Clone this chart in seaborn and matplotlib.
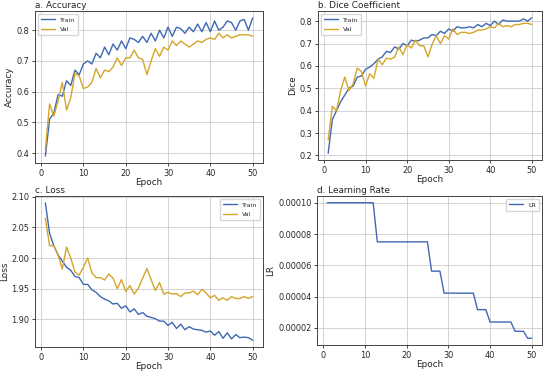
import numpy as np
import pandas as pd
import matplotlib
matplotlib.use("Agg")
import matplotlib.pyplot as plt
from matplotlib.ticker import FormatStrFormatter
import seaborn as sns

epochs = list(range(1, 51))

acc_train = [0.39, 0.51, 0.53, 0.59, 0.585, 0.635, 0.62, 0.67, 0.655, 0.69,
             0.70, 0.69, 0.725, 0.71, 0.745, 0.72, 0.755, 0.735, 0.765, 0.74,
             0.775, 0.77, 0.76, 0.78, 0.76, 0.79, 0.765, 0.80, 0.775, 0.81,
             0.78, 0.81, 0.805, 0.79, 0.81, 0.795, 0.82, 0.795, 0.825, 0.795,
             0.83, 0.80, 0.81, 0.83, 0.825, 0.80, 0.83, 0.835, 0.80, 0.84]
acc_val = [0.41, 0.56, 0.52, 0.57, 0.63, 0.54, 0.58, 0.66, 0.65, 0.61,
           0.615, 0.63, 0.675, 0.645, 0.67, 0.665, 0.68, 0.71, 0.685, 0.71,
           0.71, 0.735, 0.71, 0.705, 0.655, 0.70, 0.74, 0.715, 0.745, 0.735,
           0.765, 0.75, 0.765, 0.755, 0.745, 0.755, 0.765, 0.76, 0.77, 0.775,
           0.77, 0.79, 0.775, 0.785, 0.775, 0.78, 0.785, 0.785, 0.785, 0.78]

dice_train = [0.21, 0.36, 0.40, 0.44, 0.47, 0.50, 0.51, 0.55, 0.555, 0.585,
              0.595, 0.61, 0.63, 0.64, 0.665, 0.66, 0.685, 0.675, 0.70, 0.69,
              0.715, 0.71, 0.715, 0.725, 0.725, 0.74, 0.735, 0.755, 0.745, 0.765,
              0.755, 0.775, 0.77, 0.77, 0.775, 0.77, 0.785, 0.775, 0.79, 0.78,
              0.80, 0.785, 0.805, 0.80, 0.80, 0.80, 0.80, 0.81, 0.80, 0.815]
dice_val = [0.27, 0.42, 0.40, 0.49, 0.55, 0.49, 0.52, 0.59, 0.575, 0.51,
            0.565, 0.545, 0.63, 0.605, 0.635, 0.63, 0.64, 0.685, 0.65, 0.695,
            0.68, 0.715, 0.69, 0.69, 0.64, 0.695, 0.735, 0.70, 0.735, 0.72,
            0.765, 0.74, 0.75, 0.75, 0.745, 0.75, 0.76, 0.76, 0.765, 0.775,
            0.77, 0.79, 0.775, 0.78, 0.775, 0.785, 0.785, 0.79, 0.79, 0.785]

loss_train = [2.09, 2.04, 2.02, 2.005, 1.995, 1.985, 1.98, 1.97, 1.968, 1.957,
              1.957, 1.948, 1.944, 1.937, 1.933, 1.93, 1.925, 1.926, 1.918, 1.922,
              1.912, 1.917, 1.908, 1.911, 1.905, 1.903, 1.901, 1.897, 1.897, 1.89,
              1.895, 1.885, 1.892, 1.883, 1.888, 1.884, 1.883, 1.882, 1.879, 1.881,
              1.874, 1.88, 1.869, 1.878, 1.868, 1.875, 1.87, 1.871, 1.87, 1.866]
loss_val = [2.065, 2.02, 2.02, 2.005, 1.982, 2.018, 2.00, 1.977, 1.972, 1.985,
            2.00, 1.976, 1.968, 1.968, 1.964, 1.974, 1.967, 1.95, 1.965, 1.945,
            1.955, 1.941, 1.951, 1.967, 1.983, 1.965, 1.947, 1.96, 1.941, 1.944,
            1.941, 1.942, 1.937, 1.943, 1.943, 1.946, 1.94, 1.949, 1.943, 1.935,
            1.939, 1.931, 1.935, 1.931, 1.937, 1.934, 1.934, 1.937, 1.934, 1.937]

lr = [1e-4] * 12 + [7.5e-5] * 13 + [5.625e-5] * 3 + [4.21875e-5] * 8 + \
     [3.164e-5] * 3 + [2.373e-5] * 6 + [1.78e-5] * 3 + [1.335e-5] * 2

sns.set_theme(style="ticks")
plt.rcParams['font.family'] = ['DejaVu Sans']

C_TRAIN = "#3f68b2"
C_VAL = "#d4a52a"

fig = plt.figure(figsize=(5.5, 3.71), dpi=100)

W, H = 550, 371
def rect(l, t, r, b):
    return [l / W, 1 - b / H, (r - l) / W, (b - t) / H]

axa = fig.add_axes(rect(35, 11, 263, 163))
axb = fig.add_axes(rect(318, 11, 542, 160))
axc = fig.add_axes(rect(35, 196, 263, 347))
axd = fig.add_axes(rect(317, 196, 542, 345))

def style(ax, title, ylabel):
    ax.set_title(title, loc="left", fontsize=6.4, pad=2)
    ax.set_xlabel("Epoch", fontsize=6.4, labelpad=0)
    ax.set_ylabel(ylabel, fontsize=6.4, labelpad=2)
    ax.tick_params(labelsize=5.9, length=2.5, width=0.6, pad=1.5)
    ax.grid(True, color="#cccccc", linewidth=0.6)
    for s in ax.spines.values():
        s.set_color("#444444")
        s.set_linewidth(0.7)
    ax.set_xticks([0, 10, 20, 30, 40, 50])

LW = 1.0
LEG = dict(fontsize=4.5, frameon=True, handlelength=2.2, borderpad=0.5,
           labelspacing=0.6)

df_acc = pd.DataFrame({"Epoch": epochs * 2, "v": acc_train + acc_val,
                       "s": ["Train"] * 50 + ["Val"] * 50})
sns.lineplot(data=df_acc, x="Epoch", y="v", hue="s",
             palette=[C_TRAIN, C_VAL], ax=axa, linewidth=LW)
style(axa, "a. Accuracy", "Accuracy")
axa.legend(loc="upper left", **LEG)

df_dice = pd.DataFrame({"Epoch": epochs * 2, "v": dice_train + dice_val,
                        "s": ["Train"] * 50 + ["Val"] * 50})
sns.lineplot(data=df_dice, x="Epoch", y="v", hue="s",
             palette=[C_TRAIN, C_VAL], ax=axb, linewidth=LW)
style(axb, "b. Dice Coefficient", "Dice")
axb.legend(loc="upper left", **LEG)

df_loss = pd.DataFrame({"Epoch": epochs * 2, "v": loss_train + loss_val,
                        "s": ["Train"] * 50 + ["Val"] * 50})
sns.lineplot(data=df_loss, x="Epoch", y="v", hue="s",
             palette=[C_TRAIN, C_VAL], ax=axc, linewidth=LW)
style(axc, "c. Loss", "Loss")
axc.set_yticks([1.90, 1.95, 2.00, 2.05, 2.10])
axc.yaxis.set_major_formatter(FormatStrFormatter('%.2f'))
axc.legend(loc="upper right", **LEG)

df_lr = pd.DataFrame({"Epoch": epochs, "v": lr, "s": ["LR"] * 50})
sns.lineplot(data=df_lr, x="Epoch", y="v", hue="s",
             palette=[C_TRAIN], ax=axd, linewidth=LW)
style(axd, "d. Learning Rate", "LR")
axd.set_yticks([2e-5, 4e-5, 6e-5, 8e-5, 1e-4])
axd.yaxis.set_major_formatter(FormatStrFormatter('%.5f'))
axd.legend(loc="upper right", **LEG)

fig.savefig("out.png", dpi=100)
